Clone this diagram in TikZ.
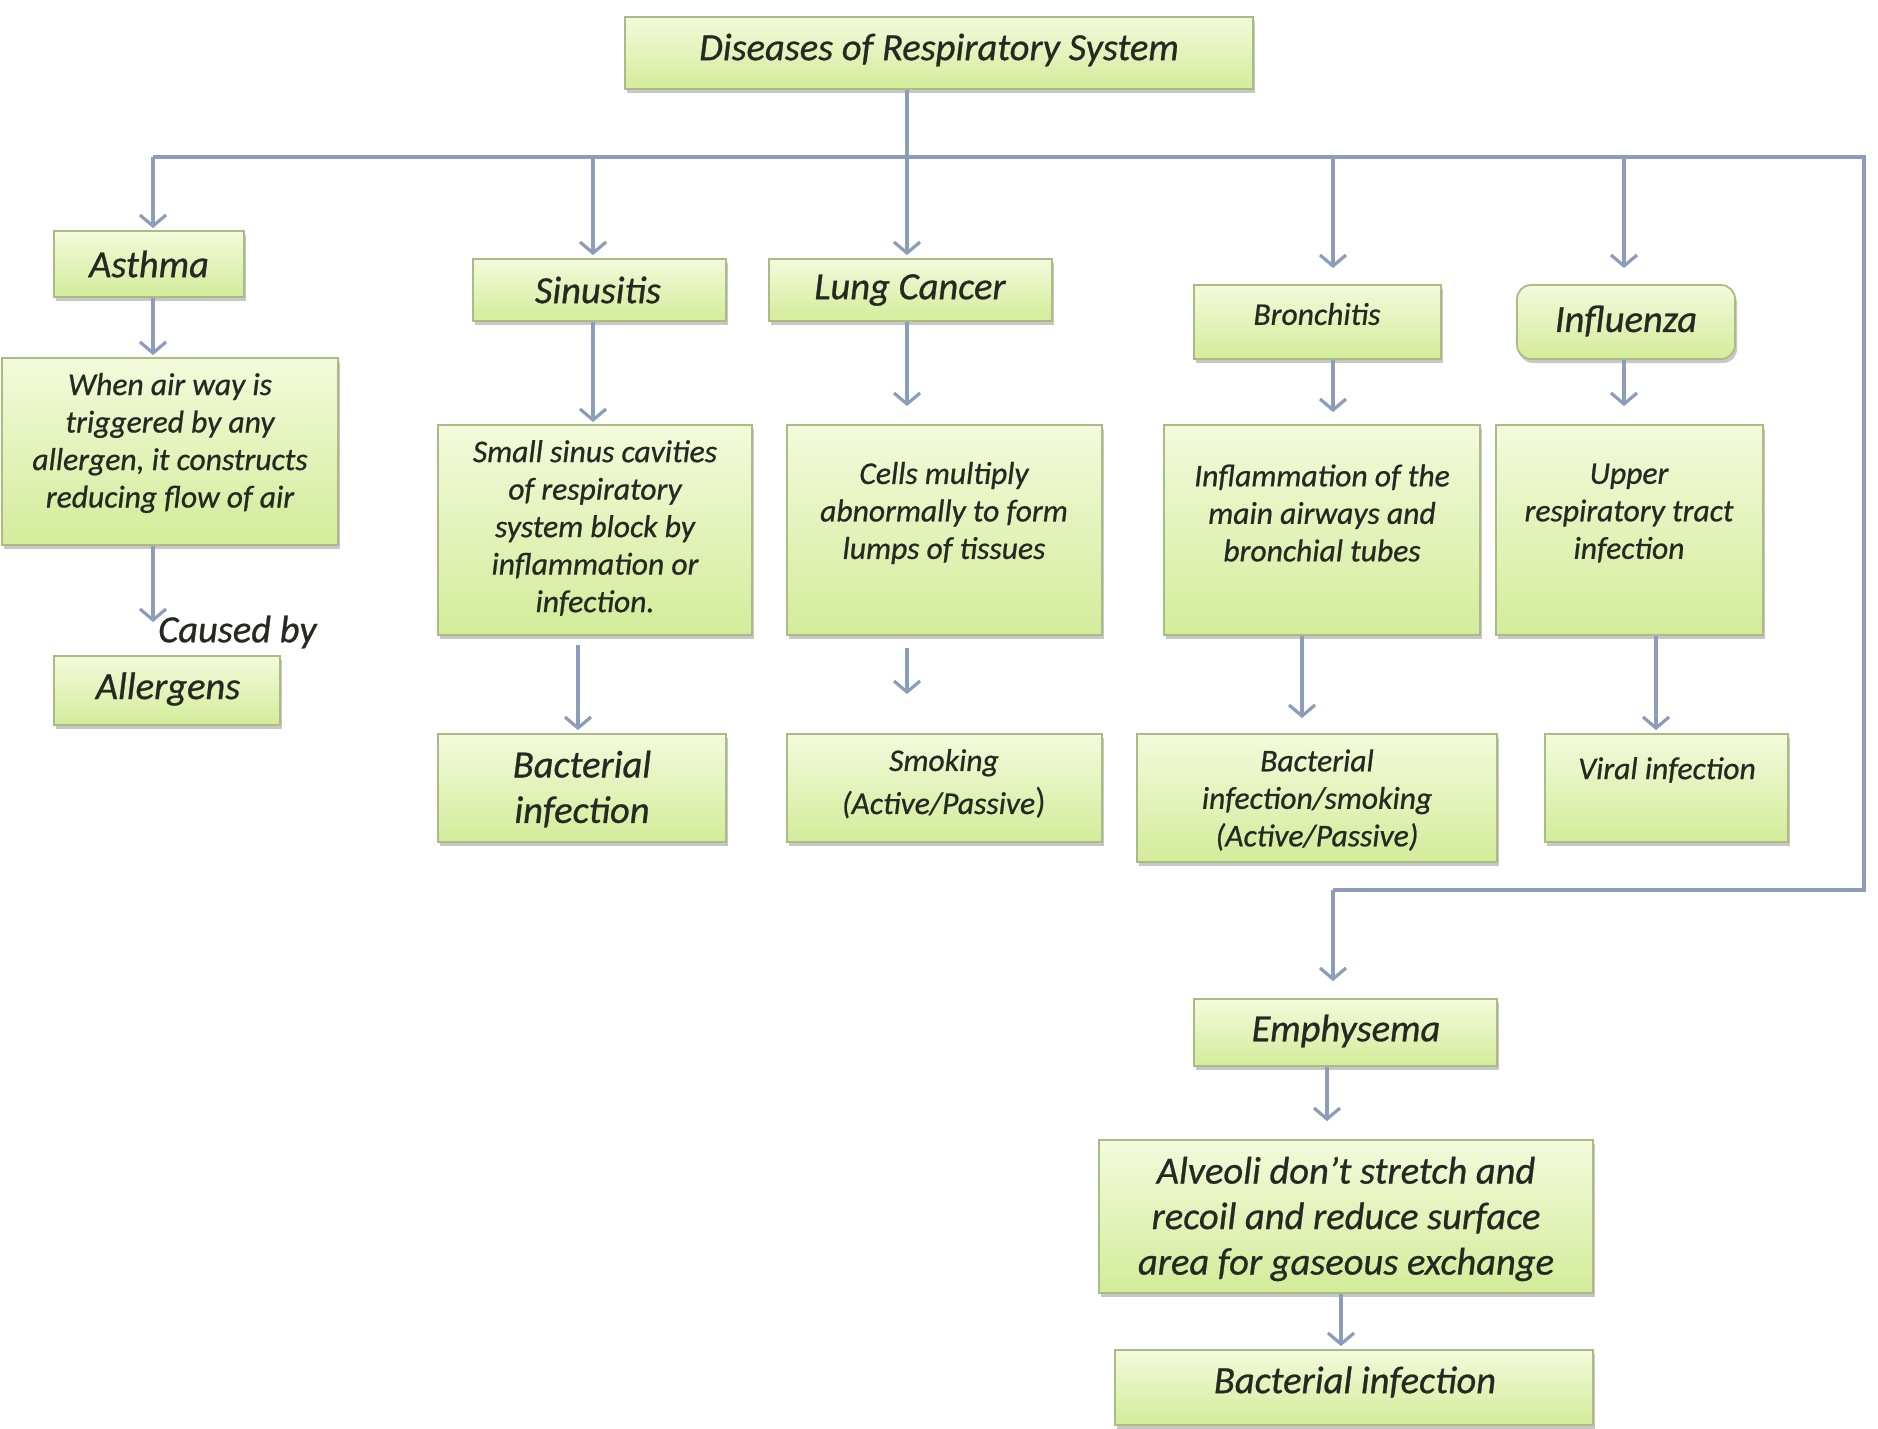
\documentclass[tikz,border=0pt]{standalone}
\usepackage{fontspec}
\setmainfont{Carlito}[ItalicFeatures={FakeBold=0.7}]
\usetikzlibrary{arrows.meta,shadows}
\definecolor{boxtop}{HTML}{F3FADB}
\definecolor{boxbot}{HTML}{D3EC9A}
\definecolor{boxline}{HTML}{AABB84}
\definecolor{linecol}{HTML}{8B9DB9}
\definecolor{txtcol}{HTML}{262822}
\tikzset{
  box/.style={draw=boxline, line width=1.8pt, top color=boxtop, bottom color=boxbot,
    drop shadow={shadow xshift=2pt, shadow yshift=-4pt, fill=black, opacity=0.22},
    inner sep=0pt, anchor=center},
  bigtxt/.style={text=txtcol, align=center, inner sep=0pt,
    font=\itshape\fontsize{38.5pt}{45.5pt}\selectfont},
  smalltxt/.style={text=txtcol, align=center, inner sep=0pt,
    font=\itshape\fontsize{31.6pt}{37.5pt}\selectfont},
  ln/.style={draw=linecol, line width=3.6pt},
  arr/.style={ln, -{Straight Barb[length=11pt,width=26pt,line width=3.2pt]}},
}
\begin{document}
\begin{tikzpicture}[x=1pt,y=-1pt]
\useasboundingbox[fill=white] (0,0) rectangle (1878,1428);

% ---------- boxes ----------
\node[box, minimum width=628pt, minimum height=72pt] (top) at (939,53) {};
\node[box, minimum width=190pt, minimum height=66pt] (asthma) at (149,264) {};
\node[box, minimum width=336pt, minimum height=187pt] (adesc) at (170,451.5) {};
\node[box, minimum width=226pt, minimum height=69pt] (allerg) at (167,690.5) {};
\node[box, minimum width=253pt, minimum height=62pt] (sinus) at (599.5,290) {};
\node[box, minimum width=314pt, minimum height=210pt] (sdesc) at (595,530) {};
\node[box, minimum width=288pt, minimum height=108pt] (bact1) at (582,788) {};
\node[box, minimum width=283pt, minimum height=62pt] (lung) at (910.5,290) {};
\node[box, minimum width=315pt, minimum height=210pt] (ldesc) at (944.5,530) {};
\node[box, minimum width=315pt, minimum height=108pt] (smoke) at (944.5,788) {};
\node[box, minimum width=247pt, minimum height=74pt] (bronch) at (1317.5,322) {};
\node[box, minimum width=316pt, minimum height=210pt] (bdesc) at (1322,530) {};
\node[box, minimum width=360pt, minimum height=128pt] (bsmoke) at (1317,798) {};
\node[box, rounded corners=14pt, minimum width=218pt, minimum height=74pt] (infl) at (1626,322) {};
\node[box, minimum width=267pt, minimum height=210pt] (idesc) at (1629.5,530) {};
\node[box, minimum width=243pt, minimum height=108pt] (viral) at (1666.5,788) {};
\node[box, minimum width=303pt, minimum height=67pt] (emph) at (1345.5,1032.5) {};
\node[box, minimum width=494pt, minimum height=153pt] (alv) at (1346,1216.5) {};
\node[box, minimum width=478pt, minimum height=75pt] (bact2) at (1354,1387.5) {};

% ---------- texts ----------
\node[bigtxt] (top-t) at (939,50) {Diseases of Respiratory System};
\node[bigtxt] (asthma-t) at (149,264) {Asthma};
\node[smalltxt] (adesc-t) at (170,443) {When air way is\\triggered by any\\allergen, it constructs\\reducing flow of air};
\node[bigtxt, anchor=west] (caused) at (158,632) {Caused by};
\node[bigtxt] (allerg-t) at (168,689) {Allergens};
\node[bigtxt] (sinus-t) at (598,290) {Sinusitis};
\node[smalltxt] (sdesc-t) at (595,528) {Small sinus cavities\\of respiratory\\system block by\\inflammation or\\infection.};
\node[bigtxt] (bact1-t) at (582,789) {Bacterial\\infection};
\node[bigtxt] (lung-t) at (910,290) {Lung Cancer};
\node[smalltxt] (ldesc-t) at (944,513) {Cells multiply\\abnormally to form\\lumps of tissues};
\node[smalltxt, font=\itshape\fontsize{31.6pt}{43pt}\selectfont] (smoke-t) at (944,784) {Smoking\\(Active/Passive{\upshape\fontsize{36pt}{36pt}\selectfont )}};
\node[smalltxt] (bronch-t) at (1317,314) {Bronchitis};
\node[smalltxt] (bdesc-t) at (1322,513) {Inflammation of the\\main airways and\\bronchial tubes};
\node[smalltxt] (bsmoke-t) at (1317,800) {Bacterial\\infection/smoking\\(Active/Passive)};
\node[bigtxt] (infl-t) at (1626,321) {Influenza};
\node[smalltxt] (idesc-t) at (1629,513) {Upper\\respiratory tract\\infection};
\node[smalltxt] (viral-t) at (1667,770) {Viral infection};
\node[bigtxt] (emph-t) at (1346,1031) {Emphysema};
\node[bigtxt] (alv-t) at (1346,1219) {Alveoli don’t stretch and\\recoil and reduce surface\\area for gaseous exchange};
\node[bigtxt] (bact2-t) at (1355,1382) {Bacterial infection};

% ---------- connector points ----------
\coordinate (jA) at (153,157);
\coordinate (jS) at (593,157);
\coordinate (jL) at (907,157);
\coordinate (jB) at (1333,157);
\coordinate (jI) at (1624,157);
\coordinate (jR) at (1864,157);
\coordinate (jR2) at (1864,890);
\coordinate (jE) at (1333,890);
\coordinate (xS2) at (578,0);
\coordinate (xB2) at (1302,0);
\coordinate (xI2) at (1656,0);
\coordinate (xE2) at (1327,0);
\coordinate (xE3) at (1341,0);

% ---------- connectors ----------
\draw[ln] (jA) -- (jR) -- (jR2) -- (jE);
\draw[arr, shorten >=3pt] (top.south -| jL) -- (lung.north -| jL);
\draw[arr, shorten >=2pt] (jA) -- (asthma.north -| jA);
\draw[arr, shorten >=3pt] (jS) -- (sinus.north -| jS);
\draw[arr, shorten >=16pt] (jB) -- (bronch.north -| jB);
\draw[arr, shorten >=16pt] (jI) -- (infl.north -| jI);
\draw[arr, shorten >=17pt] (jE) -- (emph.north -| jE);

\draw[arr, shorten >=2pt] (asthma.south -| jA) -- (adesc.north -| jA);
\draw[arr, shorten >=33pt] (adesc.south -| jA) -- (allerg.north -| jA);
\draw[arr, shorten >=2pt] (sinus.south -| jS) -- (sdesc.north -| jS);
\draw[arr, shorten <=9pt, shorten >=3pt] (sdesc.south -| xS2) -- (bact1.north -| xS2);
\draw[arr, shorten >=18pt] (lung.south -| jL) -- (ldesc.north -| jL);
\draw[arr, shorten <=12pt, shorten >=39pt] (ldesc.south -| jL) -- (smoke.north -| jL);
\draw[arr, shorten >=12pt] (bronch.south -| jB) -- (bdesc.north -| jB);
\draw[arr, shorten >=15pt] (bdesc.south -| xB2) -- (bsmoke.north -| xB2);
\draw[arr, shorten >=18pt] (infl.south -| jI) -- (idesc.north -| jI);
\draw[arr, shorten >=3pt] (idesc.south -| xI2) -- (viral.north -| xI2);
\draw[arr, shorten >=18pt] (emph.south -| xE2) -- (alv.north -| xE2);
\draw[arr, shorten >=3pt] (alv.south -| xE3) -- (bact2.north -| xE3);
\end{tikzpicture}
\end{document}
